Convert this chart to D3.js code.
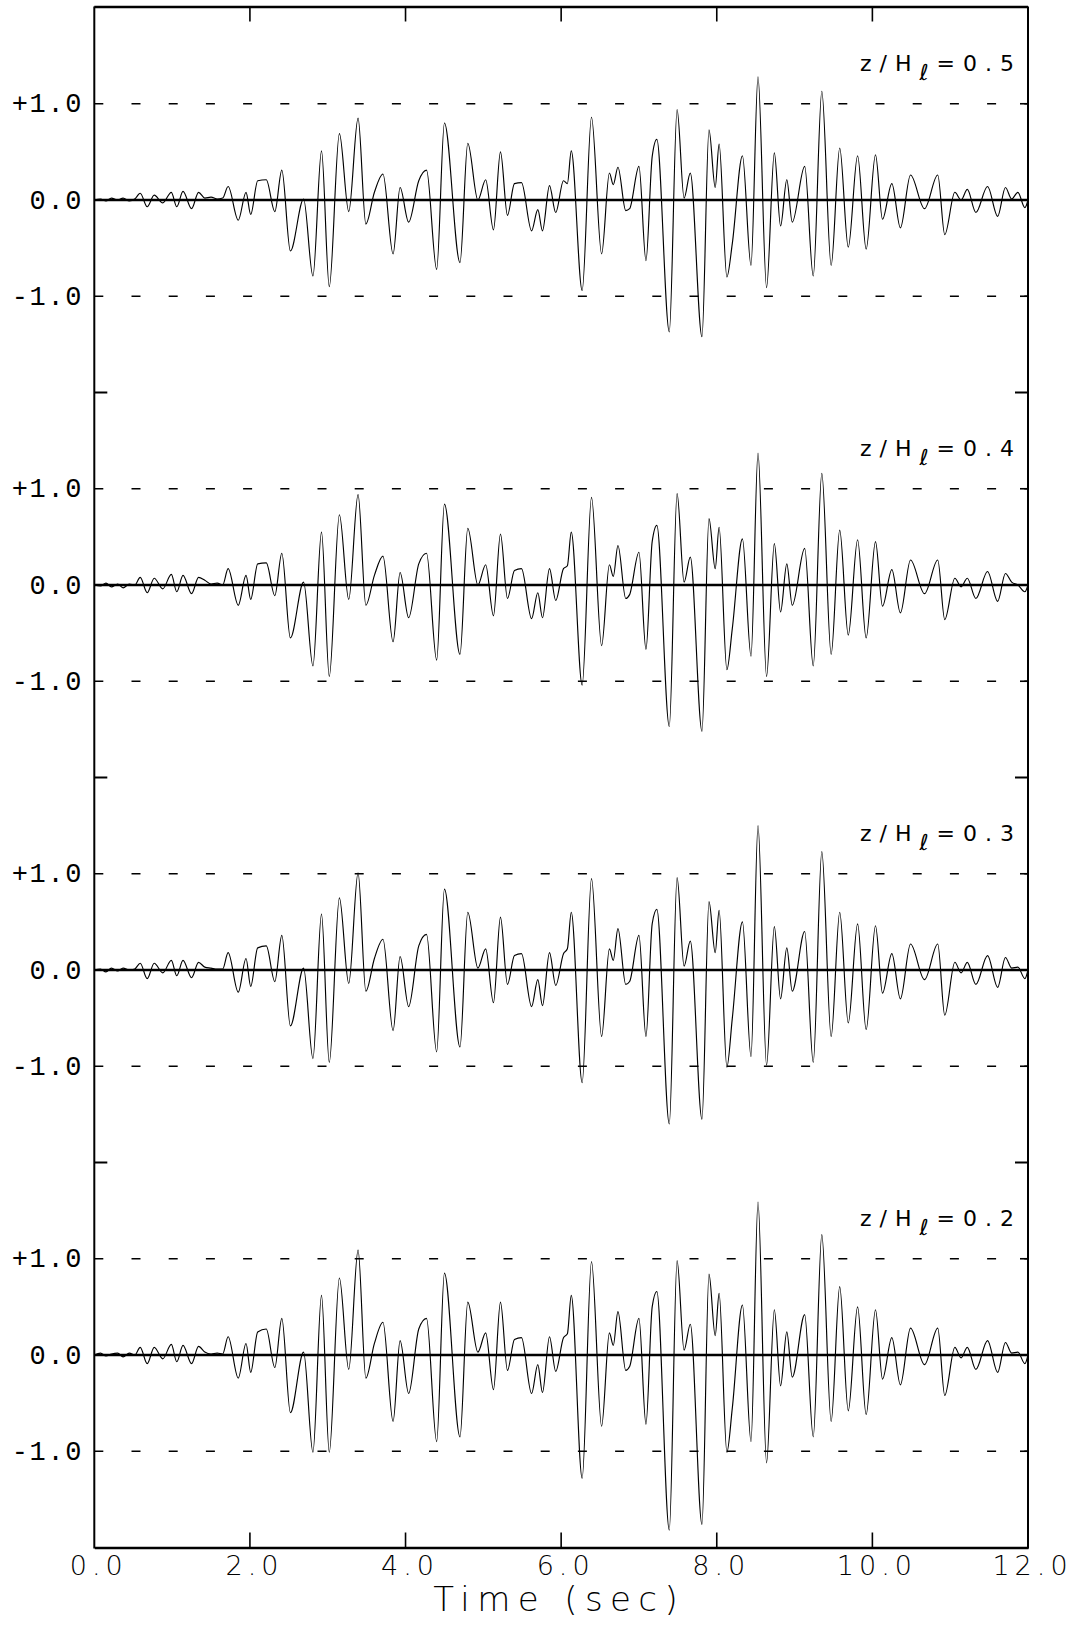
<!DOCTYPE html>
<html><head><meta charset="utf-8">
<script src="https://cdn.jsdelivr.net/npm/d3@7"></script>
<style>html,body{margin:0;padding:0;background:#fff;} svg{display:block}</style>
</head><body><svg id="chart" width="1072" height="1626"></svg>
<script>
// ---- data ----
const times = [
  0.00,0.08,0.15,0.22,0.30,0.37,0.45,0.52,0.59,0.68,
  0.77,0.88,0.99,1.06,1.14,1.25,1.34,1.42,1.50,1.58,
  1.65,1.72,1.85,1.95,2.01,2.10,2.21,2.32,2.41,2.52,
  2.69,2.81,2.92,3.02,3.15,3.27,3.39,3.49,3.60,3.71,
  3.84,3.93,4.04,4.17,4.27,4.40,4.50,4.70,4.80,4.93,
  5.03,5.13,5.22,5.31,5.40,5.49,5.62,5.70,5.76,5.85,
  5.93,6.03,6.08,6.13,6.27,6.39,6.52,6.62,6.67,6.73,
  6.83,6.88,7.00,7.09,7.17,7.23,7.39,7.49,7.58,7.66,
  7.81,7.90,7.98,8.03,8.13,8.20,8.33,8.44,8.53,8.64,
  8.74,8.82,8.90,8.97,9.13,9.24,9.35,9.47,9.58,9.69,
  9.81,9.92,10.04,10.13,10.25,10.36,10.49,10.67,10.84,10.93,
  11.06,11.14,11.22,11.33,11.48,11.61,11.71,11.79,11.87,11.96,12.00
];
const trace05 = [
  0.00,0.01,-0.01,0.02,0.00,0.02,-0.01,0.01,0.07,-0.07,
  0.05,-0.03,0.08,-0.07,0.09,-0.09,0.08,0.02,0.03,0.01,
  0.02,0.14,-0.21,0.08,-0.15,0.20,0.21,-0.12,0.31,-0.53,
  0.01,-0.79,0.51,-0.90,0.69,-0.12,0.85,-0.25,0.08,0.27,
  -0.56,0.13,-0.23,0.20,0.31,-0.72,0.80,-0.65,0.59,0.00,
  0.21,-0.31,0.50,-0.16,0.17,0.18,-0.32,-0.10,-0.32,0.15,
  -0.13,0.20,0.17,0.51,-0.94,0.86,-0.56,0.28,0.16,0.34,
  -0.11,-0.09,0.35,-0.63,0.45,0.63,-1.37,0.94,0.02,0.28,
  -1.42,0.73,0.13,0.58,-0.80,-0.45,0.46,-0.68,1.28,-0.91,
  0.49,-0.27,0.21,-0.23,0.35,-0.79,1.13,-0.68,0.54,-0.49,
  0.46,-0.51,0.47,-0.20,0.17,-0.29,0.26,-0.09,0.26,-0.36,
  0.08,0.00,0.11,-0.13,0.14,-0.17,0.13,0.01,0.08,-0.08,0.00
];
const trace04 = [
  0.00,-0.01,0.02,-0.02,0.01,-0.03,0.01,0.00,0.08,-0.08,
  0.07,-0.04,0.11,-0.07,0.10,-0.09,0.08,0.05,0.01,0.02,
  0.00,0.17,-0.21,0.10,-0.15,0.22,0.23,-0.11,0.33,-0.55,
  0.03,-0.84,0.55,-0.95,0.73,-0.15,0.94,-0.21,0.10,0.30,
  -0.59,0.13,-0.34,0.22,0.33,-0.78,0.84,-0.72,0.59,0.00,
  0.21,-0.32,0.53,-0.14,0.15,0.17,-0.35,-0.08,-0.34,0.17,
  -0.16,0.17,0.20,0.55,-1.04,0.91,-0.63,0.21,0.09,0.41,
  -0.14,-0.10,0.34,-0.67,0.45,0.62,-1.47,0.95,0.03,0.29,
  -1.52,0.69,0.17,0.60,-0.88,-0.45,0.48,-0.74,1.37,-0.95,
  0.43,-0.28,0.22,-0.21,0.38,-0.84,1.16,-0.72,0.57,-0.52,
  0.47,-0.55,0.45,-0.22,0.16,-0.29,0.26,-0.09,0.26,-0.36,
  0.07,-0.02,0.07,-0.14,0.14,-0.17,0.12,0.03,0.00,-0.07,0.00
];
const trace03 = [
  0.00,0.01,-0.02,0.02,-0.01,0.02,0.00,0.01,0.07,-0.09,
  0.07,-0.03,0.10,-0.06,0.10,-0.08,0.08,0.03,0.02,0.01,
  0.01,0.18,-0.23,0.12,-0.17,0.23,0.25,-0.12,0.36,-0.58,
  0.02,-0.92,0.58,-0.96,0.75,-0.14,1.01,-0.22,0.12,0.32,
  -0.63,0.14,-0.38,0.25,0.37,-0.85,0.84,-0.80,0.60,0.02,
  0.22,-0.34,0.55,-0.15,0.15,0.17,-0.38,-0.10,-0.37,0.18,
  -0.16,0.17,0.22,0.60,-1.17,0.95,-0.69,0.22,0.10,0.43,
  -0.15,-0.12,0.36,-0.69,0.48,0.63,-1.60,0.96,0.04,0.30,
  -1.55,0.71,0.18,0.62,-1.01,-0.50,0.50,-0.90,1.50,-0.99,
  0.45,-0.30,0.23,-0.22,0.40,-0.96,1.23,-0.69,0.60,-0.55,
  0.48,-0.62,0.46,-0.24,0.17,-0.30,0.27,-0.10,0.27,-0.47,
  0.08,-0.03,0.08,-0.15,0.15,-0.18,0.13,0.02,0.03,-0.09,0.00
];
const trace02 = [
  0.00,0.02,-0.01,0.01,0.02,-0.02,0.02,0.00,0.08,-0.09,
  0.08,-0.04,0.11,-0.07,0.10,-0.09,0.09,0.03,0.01,0.02,
  0.01,0.19,-0.24,0.12,-0.18,0.24,0.27,-0.13,0.38,-0.60,
  0.03,-1.01,0.62,-1.01,0.80,-0.15,1.09,-0.24,0.12,0.34,
  -0.69,0.15,-0.40,0.27,0.38,-0.90,0.85,-0.85,0.55,0.03,
  0.23,-0.36,0.55,-0.16,0.16,0.18,-0.40,-0.10,-0.39,0.19,
  -0.17,0.18,0.22,0.62,-1.28,0.97,-0.74,0.23,0.10,0.45,
  -0.16,-0.12,0.38,-0.72,0.50,0.66,-1.82,0.98,0.05,0.32,
  -1.76,0.84,0.20,0.64,-1.01,-0.55,0.52,-0.90,1.59,-1.12,
  0.47,-0.32,0.24,-0.23,0.42,-0.85,1.25,-0.69,0.71,-0.58,
  0.50,-0.62,0.47,-0.25,0.18,-0.31,0.28,-0.10,0.28,-0.42,
  0.08,-0.03,0.08,-0.15,0.15,-0.18,0.13,0.02,0.03,-0.09,0.00
];
const panelValues = ["0.5", "0.4", "0.3", "0.2"];
const panelTraces = [trace05, trace04, trace03, trace02];
const xTicks = [0, 2, 4, 6, 8, 10, 12];
const xTickLabels = ["0.0", "2.0", "4.0", "6.0", "8.0", "10.0", "12.0"];
const yTicks = [1, 0, -1];
const yTickLabels = ["+1.0", "0.0", "-1.0"];
const xTitle = "Time (sec)";

// ---- layout ----
const svg = d3.select("#chart");
const plotLeft = 94.3, plotRight = 1028, plotTop = 7.5, panelH = 385;
const plotBottom = plotTop + 4 * panelH;
const x = d3.scaleLinear().domain([0, 12]).range([plotLeft, plotRight]);

panelTraces.forEach((vals, i) => {
  const pTop = plotTop + i * panelH;
  const y = d3.scaleLinear().domain([-2, 2]).range([pTop + panelH, pTop]);
  const g = svg.append("g");

  // dashed reference lines at +/-1
  [1, -1].forEach(v => {
    g.append("line")
      .attr("x1", plotLeft).attr("x2", plotRight)
      .attr("y1", y(v)).attr("y2", y(v))
      .attr("stroke", "#000").attr("stroke-width", 1.6)
      .attr("stroke-dasharray", "9 28.2");
    g.append("line")
      .attr("x1", plotRight - 8).attr("x2", plotRight)
      .attr("y1", y(v)).attr("y2", y(v))
      .attr("stroke", "#000").attr("stroke-width", 1.6);
  });
  // zero line
  g.append("line")
    .attr("x1", plotLeft).attr("x2", plotRight)
    .attr("y1", y(0)).attr("y2", y(0))
    .attr("stroke", "#000").attr("stroke-width", 2.3);

  // trace
  const data = times.map((t, k) => [t, vals[k]]).filter(d => d[1] !== undefined);
  const line = d3.line().x(d => x(d[0])).y(d => y(d[1])).curve(d3.curveMonotoneX);
  g.append("path").datum(data).attr("d", line)
    .attr("fill", "none").attr("stroke", "#000").attr("stroke-width", 1.15)
    .attr("stroke-linejoin", "round");

  // y tick labels
  yTicks.forEach((v, k) => {
    g.append("text")
      .attr("x", 83).attr("y", y(v) + 8.5)
      .attr("text-anchor", "end")
      .attr("font-family", "'Liberation Mono', 'DejaVu Sans Mono', monospace")
      .attr("font-size", 27).attr("letter-spacing", 1.6)
      .attr("fill", "#000")
      .text(yTickLabels[k]);
  });

  // panel label z/Hl=value
  const lab = g.append("text")
    .attr("x", 1022).attr("y", pTop + 63)
    .attr("text-anchor", "end")
    .attr("font-family", "'DejaVu Sans', sans-serif")
    .attr("font-size", 22).attr("letter-spacing", 8)
    .attr("fill", "#000");
  lab.append("tspan").text("z/H");
  lab.append("tspan").attr("dy", 9).text("\u2113");
  lab.append("tspan").attr("dy", -9).text("=" + panelValues[i]);

  // panel boundary ticks
  if (i > 0) {
    [[plotLeft, plotLeft + 13], [plotRight - 13, plotRight]].forEach(([a, b]) => {
      svg.append("line").attr("x1", a).attr("x2", b)
        .attr("y1", pTop).attr("y2", pTop)
        .attr("stroke", "#000").attr("stroke-width", 2);
    });
  }
});

// frame
const frame = svg.append("g").attr("stroke", "#000").attr("fill", "none");
frame.append("line").attr("x1", plotLeft).attr("x2", plotLeft).attr("y1", plotTop - 1).attr("y2", plotBottom + 1).attr("stroke-width", 2);
frame.append("line").attr("x1", plotRight).attr("x2", plotRight).attr("y1", plotTop - 1).attr("y2", plotBottom + 1).attr("stroke-width", 2);
frame.append("line").attr("x1", plotLeft).attr("x2", plotRight).attr("y1", plotTop - 0.5).attr("y2", plotTop - 0.5).attr("stroke-width", 2.4);

// bottom axis
const xAxis = d3.axisBottom(x).tickValues(xTicks).tickSize(0).tickFormat((d, k) => xTickLabels[k]);
const ax = svg.append("g").attr("transform", `translate(0,${plotBottom})`).call(xAxis);
ax.select(".domain").attr("stroke", "#000").attr("stroke-width", 2.4);
ax.selectAll("text")
  .attr("font-family", "'DejaVu Sans', sans-serif")
  .attr("font-weight", 200)
  .attr("font-size", 27).attr("letter-spacing", 5)
  .attr("fill", "#000")
  .attr("dy", 0).attr("y", 27.5).attr("dx", 4);

// inward ticks on top and bottom
xTicks.slice(1, -1).forEach(t => {
  svg.append("line").attr("x1", x(t)).attr("x2", x(t))
    .attr("y1", plotBottom).attr("y2", plotBottom - 15)
    .attr("stroke", "#000").attr("stroke-width", 1.6);
  svg.append("line").attr("x1", x(t)).attr("x2", x(t))
    .attr("y1", plotTop).attr("y2", plotTop + 14)
    .attr("stroke", "#000").attr("stroke-width", 1.6);
});

// axis title
svg.append("text")
  .attr("x", (plotLeft + plotRight) / 2 - 2).attr("y", 1611)
  .attr("text-anchor", "middle")
  .attr("font-family", "'DejaVu Sans', sans-serif")
  .attr("font-weight", 200)
  .attr("font-size", 34).attr("letter-spacing", 7.4)
  .attr("fill", "#000")
  .text(xTitle);
</script>
</body></html>
